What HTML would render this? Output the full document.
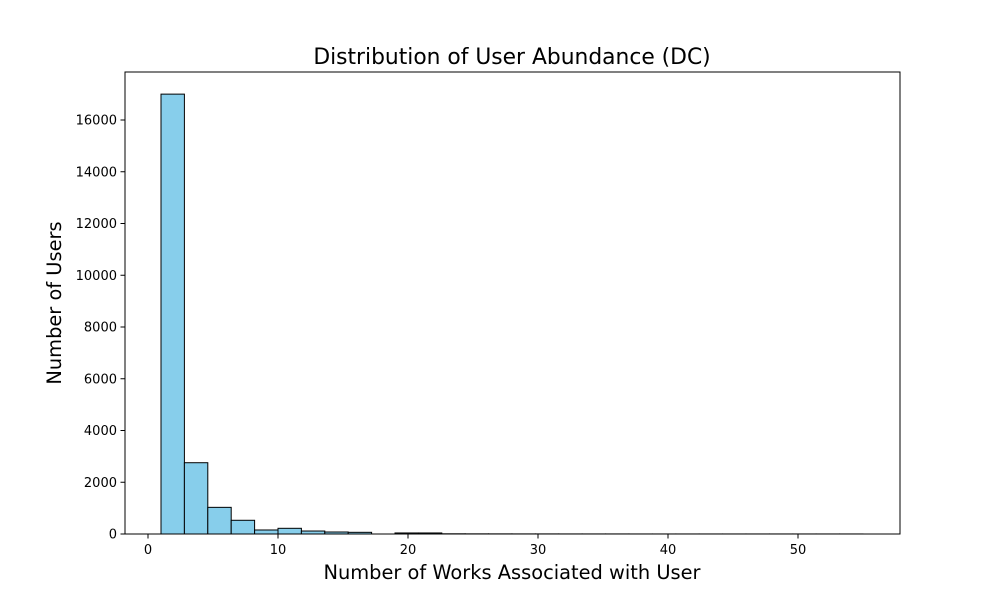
<!DOCTYPE html>
<html><head><meta charset="utf-8"><style>
body{margin:0;background:#fff;}
svg{display:block;font-family:"DejaVu Sans","Liberation Sans",sans-serif;}
</style></head><body>
<svg id="chart" width="1000" height="600">
<rect x="0" y="0" width="1000" height="600" fill="#fff"/>
<text x="512" y="64" font-size="21.8" text-anchor="middle">Distribution of User Abundance (DC)</text>
<g id="bars"></g>
<g id="xticks"></g>
<g id="yticks"></g>
<rect x="125" y="72" width="775" height="462" fill="none" stroke="#000" stroke-width="1"/>
<text x="512" y="579" font-size="19.4" text-anchor="middle">Number of Works Associated with User</text>
<text x="61" y="303" font-size="19.4" text-anchor="middle" transform="rotate(-90 61 303)">Number of Users</text>
</svg>
<script>
const binStart = 1;
const binEnd = 55;
const counts = [17000, 2755, 1030, 530, 155, 220, 115, 77, 65, 0, 40, 40, 8, 6, 5, 4, 4, 3, 3, 3, 2, 2, 2, 2, 2, 2, 2, 2, 2, 2];
const xTicks = [0, 10, 20, 30, 40, 50];
const yTicks = [0, 2000, 4000, 6000, 8000, 10000, 12000, 14000, 16000];
const NS = "http://www.w3.org/2000/svg";
function xs(v){ return 148 + v * 13; }
function ys(v){ return 534 - v * 0.025875; }
const bars = document.getElementById('bars');
const w = (binEnd - binStart) / counts.length;
counts.forEach((c, i) => {
  const x0 = xs(binStart + i * w), x1 = xs(binStart + (i + 1) * w);
  const r = document.createElementNS(NS, 'rect');
  r.setAttribute('x', x0); r.setAttribute('width', x1 - x0);
  r.setAttribute('y', ys(c)); r.setAttribute('height', 534 - ys(c));
  r.setAttribute('fill', '#87ceeb'); r.setAttribute('stroke', '#000'); r.setAttribute('stroke-width', '1');
  
  
  bars.appendChild(r);
});
const xg = document.getElementById('xticks');
xTicks.forEach(t => {
  const l = document.createElementNS(NS, 'line');
  l.setAttribute('x1', xs(t)); l.setAttribute('x2', xs(t)); l.setAttribute('y1', 534); l.setAttribute('y2', 538.5);
  l.setAttribute('stroke', '#000');
  
  
  xg.appendChild(l);
  const tx = document.createElementNS(NS, 'text');
  tx.setAttribute('x', xs(t)); tx.setAttribute('y', 554); tx.setAttribute('font-size', '13'); tx.setAttribute('text-anchor', 'middle');
  tx.textContent = t;
  
  
  xg.appendChild(tx);
});
const yg = document.getElementById('yticks');
yTicks.forEach(t => {
  const l = document.createElementNS(NS, 'line');
  l.setAttribute('x1', 120.5); l.setAttribute('x2', 125); l.setAttribute('y1', ys(t)); l.setAttribute('y2', ys(t));
  l.setAttribute('stroke', '#000');
  
  
  yg.appendChild(l);
  const tx = document.createElementNS(NS, 'text');
  tx.setAttribute('x', 117); tx.setAttribute('y', ys(t) + 4.5); tx.setAttribute('font-size', '13'); tx.setAttribute('text-anchor', 'end');
  tx.textContent = t;
  
  
  yg.appendChild(tx);
});
</script>
</body></html>
